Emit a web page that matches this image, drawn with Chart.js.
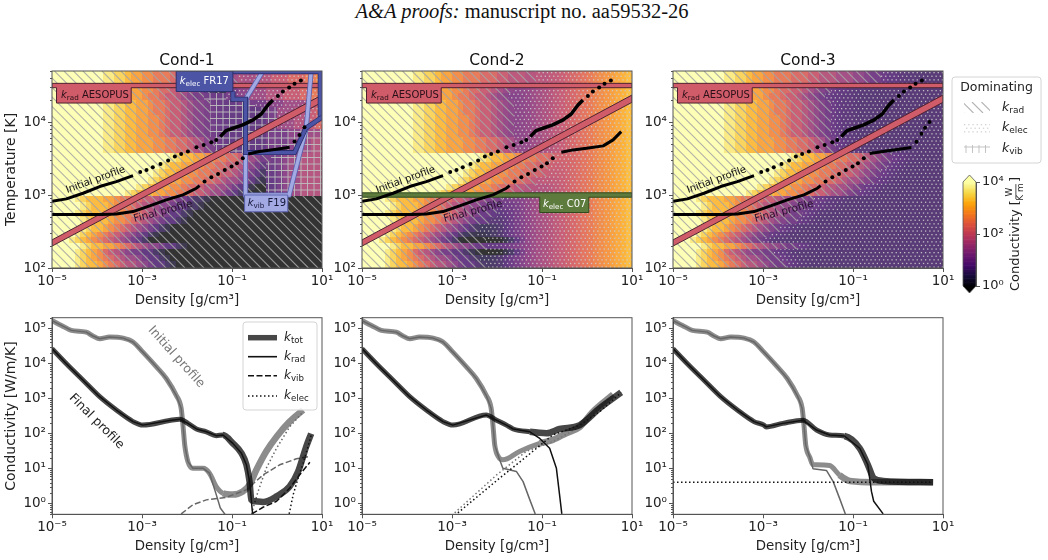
<!DOCTYPE html>
<html>
<head>
<meta charset="utf-8">
<script src="https://cdn.jsdelivr.net/npm/chart.js@4/dist/chart.umd.min.js"></script>
<style>
    body { margin: 0; background: #fff; width: 1048px; height: 560px; overflow: hidden; position: relative; }
    canvas { position: absolute; }
    #pageTitle { position: absolute; left: 0; width: 1044px; top: 0; text-align: center; font: 20.5px "Liberation Serif", serif; color: #111; }
</style>
</head>
<body>
<div id="pageTitle"><i>A&amp;A proofs:</i> manuscript no. aa59532-26</div>
<script>
// temperature row edges of the conductivity maps (log10 K)
const rowEdgesLogT = [2.0, 2.09, 2.18, 2.26, 2.34, 2.42, 2.5, 2.6, 2.7, 2.8, 2.9, 2.98, 3.07, 3.15, 3.25, 3.35, 3.45, 3.57, 3.7, 3.8, 3.9, 4.0, 4.1, 4.2, 4.3, 4.4, 4.5, 4.6, 4.7];
const colStartLogRho = -5;
const colStepLogRho = 0.125;
const colCount = 48;

// conductivity levels: one character per cell, log10 k = -0.5 + 0.25 * index in levelChars
const levelChars = "0123456789abcdefghij";

// radiative conductivity, lowest temperature row first, missing cells on the right are level 0
const kRadRows = [
    "jjjjhgffed cba9987655 4321",
    "jjjjhgfedc ba98876554 3210",
    "jjjihgfedb a987665543 21",
    "jjjjjhgffe edcba98776 554321",
    "jjjhgfedcb a987654211",
    "jjjjhgfedc ba98765432 1",
    "jjjjihgffe dcba987654 321",
    "jjjjjhgfff eddcba9876 554321",
    "jjjjhgfffe eddccba987 6554321",
    "jjjjjhgfff edccba9987 7655443221",
    "jjjjhgfffe edccbbaa98 8766544322 1",
    "jjjjjjjjjj jjihgfffee ddccbaa988 7654321",
    "jjjjjjjjjj jjjjihgffe eddcbba998 8765432 1",
    "jjjjjjjjjj jjjjjjihgf feeddccbba 9887654321",
    "jjjjjjjjjj jjjjjjjihg ffeeddccbb aa98765432 1",
    "jjjjjjjjjj jjjjjjjjih gffeeddccb baa9876543 21",
    "jjjjjjjjjj jjjjjjjjjj ihgffeeddc cbba987654 321",
    "jjjjjjjjih hggffeeedd ccbba98654 3221100",
    "jjjjjjjjih hggffeeedd ccbba98654 3221100",
    "jjjjjjjjih hggffeeddc baa9876543 221",
    "jjjjjjjjih hggffeeddc baa9876543 221",
    "jjjjjjjjih hggffeeddc baa9876543 221",
    "jjjjjjjjih hggffeedcc baa9876543 221",
    "jjjjjjjjih hggffeedcc baa9876543 221",
    "jjjjjjjjih hggfeedccb aa98765433 221",
    "jjjjjjjjih hggfeeddcb baa9876543 3211",
    "jjjjjjjjjh hggfeeddcc cbbbaa9998 8877655433 211",
    "jjjjjjjjjh hggfeeddcc cbbbaa9998 8877655433 211",
];

// Cond-1 vibrational and electronic parts, strings end at the densest column
const kVibRowsCond1 = [
    "", "", "", "", "", "", "", "", "", "", "",
    "5567889999", "5567889999", "5567889999", "5567889999", "5567889999", "5567889999",
    "5555555555556666778899", "5555555555556666778899", "5555555555556666777888",
    "5555555555556600000000", "5555555555556600000000", "5555555555556600000000",
    "5555555666000000000000", "5555500000000000000000", "", "", "",
];
const kElecRowsCond1 = [
    "", "", "", "", "", "", "", "", "", "", "", "", "", "", "", "", "", "", "", "",
    "88899aab", "88899aab", "88899aab", "66777888899a",
    "6677888999aaabbcc", "6677888999aaabbcc", "77888999aaabbbccd", "77888999aaabbbccd",
];

// Cond-2 electronic conductivity per density column (log10 k), its shift per temperature
// row and how much of that shift applies in each column
const kElecCond2 = [-2.06, -1.94, -1.82, -1.71, -1.59, -1.47, -1.36, -1.24, -1.12, -1.01, -0.89, -0.77, -0.66, -0.54, -0.42, -0.31, -0.19, -0.07, 0.04, 0.16, 0.28, 0.39, 0.51, 0.63, 0.74, 0.86, 0.98, 1.09, 1.21, 1.33, 1.44, 1.56, 1.66, 1.77, 1.87, 1.98, 2.09, 2.2, 2.3, 2.41, 2.52, 2.63, 2.73, 2.84, 2.95, 3.05, 3.16, 3.27];
const kElecCond2RowShift = [-0.2, -0.2, -0.9, 0, -0.9, -0.2, -0.2, -0.2, -0.2, -0.2, -0.1, 0, 0, 0, 0, 0, 0, 0, 0, 0, 0, 0, 0, 0, 0, 0, 0, 0];
const kElecCond2ShiftWeight = [1, 1, 1, 1, 1, 1, 1, 1, 1, 1, 1, 1, 1, 1, 1, 1, 1, 1, 1, 1, 1, 1, 1, 1, 1, 0.8, 0.6, 0.4, 0.2, 0, 0, 0, 0, 0, 0, 0, 0, 0, 0, 0, 0, 0, 0, 0, 0, 0, 0, 0];
// Cond-3 uses a constant electronic conductivity (log10 k)
const kElecCond3 = 0.6;

// black profile markers on the maps, log10 density and log10 temperature
const initSolidARho = [-5, -4.68, -4.31, -3.94, -3.57, -3.2];
const initSolidAT = [2.915, 2.947, 3.024, 3.116, 3.184, 3.266];
const initDotsRho = [-3.04, -2.9, -2.76, -2.59, -2.42, -2.27, -2.13, -1.98, -1.79, -1.63, -1.46, -1.35, 0.02, 0.13, 0.27, 0.39, 0.53];
const initDotsT = [3.316, 3.344, 3.38, 3.426, 3.472, 3.526, 3.563, 3.595, 3.654, 3.686, 3.723, 3.755, 4.358, 4.417, 4.472, 4.526, 4.568];
const initSolidBRho = [-1.26, -1.13, -0.98, -0.76, -0.53, -0.35, -0.2, -0.09];
const initSolidBT = [3.8, 3.883, 3.915, 3.96, 4.03, 4.11, 4.234, 4.303];

const finalSolidARho = [-5, -3.9, -3.57, -3.2, -2.83, -2.46, -2.09, -1.79, -1.72];
const finalSolidAT = [2.732, 2.732, 2.741, 2.773, 2.851, 2.933, 3.001, 3.093, 3.129];
const finalDotsRho = [-1.61, -1.46, -1.31, -1.16, -1.01, -0.89, -0.76];
const finalDotsT = [3.184, 3.243, 3.289, 3.344, 3.39, 3.435, 3.504];
const finalEndRhoCond1 = [-0.64, -0.39, -0.01, 0.28];
const finalEndTCond1 = [3.563, 3.595, 3.627, 3.654];
const finalEndDotsRhoCond1 = [0.39, 0.5, 0.61];
const finalEndDotsTCond1 = [3.732, 3.823, 3.928];
const finalEndRhoCond2 = [-0.57, -0.31, -0.01, 0.36, 0.58, 0.76];
const finalEndTCond2 = [3.586, 3.618, 3.64, 3.673, 3.755, 3.869];
const finalEndRhoCond3 = [-0.63, -0.3, 0.3];
const finalEndTCond3 = [3.57, 3.6, 3.65];
const finalEndDotsRhoCond3 = [0.41, 0.52, 0.6, 0.7];
const finalEndDotsTCond3 = [3.73, 3.84, 3.92, 4.0];

// table model bands, log10 density and log10 temperature
const aesopusBandRho = [-5, -4.9, -4.9, -3.24, -3.24, 1, 1, -5];
const aesopusBandT = [4.47, 4.47, 4.26, 4.26, 4.47, 4.47, 4.53, 4.53];
const aesopusDiagRho = [-5, 1, 1, -5];
const aesopusDiagT = [2.3, 4.27, 4.37, 2.385];
const fr17BoxRho = [-2.24, -0.98, -0.98, -2.24];
const fr17BoxT = [4.7, 4.7, 4.417, 4.417];
const fr17PathRho = [-0.98, -0.98, -0.7, -0.7, 0.39, 0.64, 1];
const fr17PathT = [4.417, 4.312, 4.312, 3.581, 3.581, 3.915, 4.065];
const fr17EdgeRho = [-0.98, 0.96, 0.96];
const fr17EdgeT = [4.69, 4.69, 4.065];
const f19BoxRho = [-0.72, 0.24, 0.24, -0.72];
const f19BoxT = [3.0, 3.0, 2.77, 2.77];
const f19PathRho = [-0.31, -0.68, -0.7, -0.7, 0.27, 0.65, 0.76];
const f19PathT = [4.7, 4.33, 4.0, 3.0, 3.0, 3.915, 4.7];
const c07BandRho = [-5, -1.05, -1.05, 0.04, 0.04, 1, 1, -5];
const c07BandT = [2.97, 2.97, 2.76, 2.76, 2.97, 2.97, 3.03, 3.03];

// conductivity along the profiles, log10 density and log10 k
const initLeftRho = [-5, -4.79, -4.57, -4.24, -4.09, -3.94, -3.72, -3.42, -3.2, -2.98, -2.68, -2.46, -2.24, -2.13, -2.09, -2.05];
const initLeftK = [5.22, 5.08, 4.94, 4.89, 4.78, 4.7, 4.75, 4.72, 4.61, 4.32, 3.9, 3.57, 3.09, 2.72, 2.24, 1.67];
const finalLeftRho = [-5, -4.68, -4.31, -3.94, -3.57, -3.2, -2.98];
const finalLeftK = [4.42, 3.99, 3.52, 3.05, 2.67, 2.34, 2.24];

const initTotRho1 = [-1.98, -1.87, -1.64, -1.5, -1.35, -1.2, -0.98, -0.76, -0.61, -0.46, -0.24, -0.01, 0.28, 0.58];
const initTotK1 = [1.2, 1.01, 1.01, 0.87, 0.49, 0.3, 0.26, 0.35, 0.54, 0.96, 1.49, 1.91, 2.34, 2.67];
const initRadRho1 = [-1.98, -1.87, -1.64, -1.5, -1.35, -1.26, -1.15];
const initRadK1 = [1.2, 1.01, 1.01, 0.87, 0.26, -0.12, -0.31];
const initVibRho1 = [-2.13, -1.87, -1.57, -1.13, -0.68, -0.31, 0.06, 0.43, 0.69];
const initVibK1 = [-0.29, -0.03, 0.11, 0.18, 0.4, 0.82, 1.11, 1.28, 1.34];
const initElecRho1 = [-0.56, -0.53, -0.42, -0.24, -0.01, 0.28, 0.58];
const initElecK1 = [-0.29, -0.12, 0.35, 1.01, 1.58, 2.19, 2.62];
const finalTotRho1 = [-2.39, -2.16, -1.98, -1.79, -1.57, -1.35, -1.2, -0.98, -0.79, -0.68, -0.61, -0.57, -0.5, -0.31, -0.01, 0.28, 0.47, 0.65, 0.76];
const finalTotK1 = [2.37, 2.41, 2.29, 2.13, 2.05, 1.94, 1.96, 1.72, 1.44, 1.11, 0.63, 0.11, 0.07, 0.05, 0.21, 0.49, 0.92, 1.63, 2.0];
const finalRadRho1 = [-2.39, -2.16, -1.98, -1.79, -1.57, -1.35, -1.2, -0.98, -0.79, -0.68, -0.61, -0.57, -0.55, -0.53];
const finalRadK1 = [2.37, 2.41, 2.29, 2.13, 2.05, 1.94, 1.96, 1.72, 1.44, 1.11, 0.63, 0.11, -0.2, -0.31];
const finalVibRho1 = [-0.56, -0.31, -0.01, 0.28, 0.5, 0.73];
const finalVibK1 = [-0.29, -0.1, 0.07, 0.44, 0.82, 1.18];
const finalElecRho1 = [0.27, 0.36, 0.47, 0.58, 0.69, 0.76];
const finalElecK1 = [-0.29, 0.26, 0.73, 1.15, 1.63, 1.96];

const initTotRho2 = [-1.96, -1.87, -1.5, -1.05, -0.76, -0.46, -0.16, 0.13, 0.58];
const initTotK2 = [1.32, 1.25, 1.49, 1.72, 1.82, 2.01, 2.19, 2.62, 3.11];
const initRadRho2 = [-1.96, -1.87, -1.57, -1.42, -1.27, -1.15];
const initRadK2 = [1.32, 1.01, 0.92, 0.63, 0.11, -0.29];
const initElecRho2 = [-2.94, -2.01, -1.35, -0.76, -0.16, 0.58];
const initElecK2 = [-0.26, 0.82, 1.49, 1.77, 2.19, 3.11];
const finalTotRho2 = [-2.24, -2.01, -1.79, -1.64, -1.27, -0.9, -0.61, -0.16, 0.28, 0.76];
const finalTotK2 = [2.53, 2.38, 2.24, 2.13, 2.05, 2.01, 2.13, 2.24, 2.72, 3.17];
const finalRadRho2 = [-2.24, -2.01, -1.79, -1.64, -1.27, -1.05, -0.83, -0.68, -0.61, -0.56];
const finalRadK2 = [2.53, 2.38, 2.24, 2.13, 2.05, 1.86, 1.58, 1.01, 0.26, -0.29];
const finalElecRho2 = [-2.87, -1.94, -1.35, -0.76, -0.16, 0.28, 0.76];
const finalElecK2 = [-0.26, 0.73, 1.34, 1.96, 2.24, 2.62, 3.17];

const initTotRho3 = [-1.96, -1.89, -1.81, -1.52, -1.3, -1.07, -0.48, 0.78];
const initTotK3 = [1.32, 1.11, 1.11, 1.09, 0.82, 0.65, 0.615, 0.615];
const initRadRho3 = [-1.96, -1.89, -1.59, -1.44, -1.3, -1.17];
const initRadK3 = [1.32, 1.0, 0.95, 0.63, 0.16, -0.29];
const finalTotRho3 = [-2.93, -2.56, -2.11, -1.81, -1.52, -1.19, -0.85, -0.67, -0.54, -0.33, 0.78];
const finalTotK3 = [2.19, 2.29, 2.38, 2.1, 1.96, 1.93, 1.58, 1.11, 0.73, 0.65, 0.615];
const finalRadRho3 = [-2.93, -2.56, -2.11, -1.81, -1.52, -1.19, -0.85, -0.67, -0.59, -0.54, -0.33];
const finalRadK3 = [2.19, 2.29, 2.38, 2.1, 1.96, 1.93, 1.58, 1.11, 0.35, 0.07, -0.29];
const elecFlatRho3 = [-5, 0.75];
const elecFlatK3 = [0.615, 0.615];

// tick labels
const densityTicks = [1e-5, 1e-3, 1e-1, 1e1];
const temperatureTicks = [1e2, 1e3, 1e4];
const conductivityTicks = [1e0, 1e1, 1e2, 1e3, 1e4, 1e5];
const colorbarTicks = [1e0, 1e2, 1e4];

const inferno = ["#000004", "#160b39", "#420a68", "#6a176e", "#932667", "#bc3754", "#dd513a", "#f37819", "#fca50a", "#f6d746", "#fcffa4"];
const fontFamily = '"DejaVu Sans", sans-serif';
const axisColor = "#555";
const textColor = "#222";

function cleanRow(row) {
    return row.replace(/ /g, "");
}

function levelToLog(ch) {
    return -0.5 + 0.25 * levelChars.indexOf(ch);
}

function hexToRgb(hex) {
    return [1, 3, 5].map((i) => parseInt(hex.slice(i, i + 2), 16));
}

// inferno with a log norm from 1 to 1e4
function colormap(logK, alpha) {
    if (logK < 0) return alpha < 1 ? "#333333" : "#000";
    const t = Math.min(logK / 4, 1) * 10;
    const i = Math.min(Math.floor(t), 9);
    const a = hexToRgb(inferno[i]);
    const b = hexToRgb(inferno[i + 1]);
    const rgb = a.map((v, n) => v + (b[n] - v) * (t - i));
    return "rgb(" + rgb.map((v) => Math.round(v * alpha + 255 * (1 - alpha))).join(",") + ")";
}

function tickLabel(value) {
    const sup = { "-": "⁻", 0: "⁰", 1: "¹", 2: "²", 3: "³", 4: "⁴", 5: "⁵" };
    const exp = String(Math.round(Math.log10(value)));
    return "10" + exp.split("").map((c) => sup[c]).join("");
}

function logPoints(xs, ys) {
    return xs.map((x, i) => ({ x: Math.pow(10, x), y: Math.pow(10, ys[i]) }));
}

// "k" with a subscript plus optional trailing text
function drawKLabel(ctx, x, y, sub, rest, size, color) {
    ctx.save();
    ctx.fillStyle = color;
    ctx.textBaseline = "middle";
    ctx.textAlign = "left";
    ctx.font = "italic " + size + "px " + fontFamily;
    ctx.fillText("k", x, y);
    let cx = x + ctx.measureText("k").width;
    ctx.font = size * 0.72 + "px " + fontFamily;
    ctx.fillText(sub, cx, y + size * 0.25);
    cx += ctx.measureText(sub).width;
    if (rest) {
        ctx.font = size + "px " + fontFamily;
        ctx.fillText(rest, cx, y);
    }
    ctx.restore();
}

function drawRotatedText(ctx, text, x, y, degrees, size, color) {
    ctx.save();
    ctx.translate(x, y);
    ctx.rotate((degrees * Math.PI) / 180);
    ctx.font = size + "px " + fontFamily;
    ctx.fillStyle = color;
    ctx.textAlign = "center";
    ctx.textBaseline = "middle";
    ctx.fillText(text, 0, 0);
    ctx.restore();
}

function hatchRad(ctx, left, top, right, bottom) {
    const h = bottom - top;
    ctx.strokeStyle = "rgba(165,165,165,0.85)";
    ctx.lineWidth = 1.1;
    ctx.beginPath();
    for (let d = -h; d < right - left; d += 9.5) {
        ctx.moveTo(left + d, top);
        ctx.lineTo(left + d + h, bottom);
    }
    ctx.stroke();
}

function hatchElec(ctx, left, top, right, bottom) {
    ctx.fillStyle = "rgba(205,205,205,0.9)";
    let odd = false;
    for (let y = top + 1; y < bottom; y += 3.6) {
        for (let x = left + (odd ? 2.1 : 0); x < right; x += 4.2) {
            ctx.fillRect(x, y, 1.3, 1.3);
        }
        odd = !odd;
    }
}

function hatchVib(ctx, left, top, right, bottom) {
    ctx.strokeStyle = "rgba(190,190,190,0.9)";
    ctx.lineWidth = 1;
    ctx.beginPath();
    for (let x = left + 2; x < right; x += 6.5) {
        ctx.moveTo(x, top);
        ctx.lineTo(x, bottom);
    }
    for (let y = top + 2; y < bottom; y += 6.5) {
        ctx.moveTo(left, y);
        ctx.lineTo(right, y);
    }
    ctx.stroke();
}

const hatchers = { rad: hatchRad, elec: hatchElec, vib: hatchVib };

function tracePoly(ctx, chart, xs, ys) {
    ctx.beginPath();
    xs.forEach((x, i) => {
        const px = chart.scales.x.getPixelForValue(Math.pow(10, x));
        const py = chart.scales.y.getPixelForValue(Math.pow(10, ys[i]));
        if (i === 0) ctx.moveTo(px, py);
        else ctx.lineTo(px, py);
    });
}

function drawBand(ctx, chart, xs, ys, fill, edge) {
    tracePoly(ctx, chart, xs, ys);
    ctx.closePath();
    ctx.fillStyle = fill;
    ctx.fill();
    ctx.strokeStyle = edge;
    ctx.lineWidth = 1;
    ctx.stroke();
}

function drawPath(ctx, chart, xs, ys, fill, edge) {
    tracePoly(ctx, chart, xs, ys);
    ctx.lineJoin = "miter";
    ctx.strokeStyle = edge;
    ctx.lineWidth = 5;
    ctx.stroke();
    ctx.strokeStyle = fill;
    ctx.lineWidth = 3.4;
    ctx.stroke();
}

// spine on all four sides and the small ticks of the vertical axis
const framePlugin = {
    id: "frame",
    afterDraw(chart) {
        const { ctx, chartArea: a, scales } = chart;
        ctx.save();
        ctx.strokeStyle = axisColor;
        ctx.lineWidth = 1;
        ctx.strokeRect(a.left, a.top, a.right - a.left, a.bottom - a.top);
        ctx.beginPath();
        for (let n = -1; n < 6; n++) {
            for (let m = 2; m < 10; m++) {
                const v = m * Math.pow(10, n);
                if (v < scales.y.min || v > scales.y.max) continue;
                const y = Math.round(scales.y.getPixelForValue(v)) + 0.5;
                ctx.moveTo(a.left, y);
                ctx.lineTo(a.left - 2, y);
            }
        }
        ctx.stroke();
        ctx.restore();
    },
};

function panelTitlePlugin(title) {
    return {
        id: "panelTitle",
        afterDraw(chart) {
            const { ctx, chartArea: a } = chart;
            ctx.save();
            ctx.font = "15.5px " + fontFamily;
            ctx.fillStyle = "#111";
            ctx.textAlign = "center";
            ctx.textBaseline = "middle";
            ctx.fillText(title, (a.left + a.right) / 2, a.top - 10.5);
            ctx.restore();
        },
    };
}

// per cell map of total conductivity and the component that dominates
function buildCells(elecAt, vibAt) {
    const cells = [];
    kRadRows.forEach((raw, r) => {
        const rad = cleanRow(raw).padEnd(colCount, "0");
        for (let c = 0; c < colCount; c++) {
            const kRad = Math.pow(10, levelToLog(rad[c]));
            const kElec = elecAt(r, c);
            const kVib = vibAt(r, c);
            let dom = "rad";
            if (kElec > kRad && kElec >= kVib) dom = "elec";
            else if (kVib > kRad && kVib > kElec) dom = "vib";
            cells.push({ r, c, logK: Math.log10(kRad + kElec + kVib), dom });
        }
    });
    return cells;
}

function levelGridReader(rows) {
    const grid = rows.map((row) => cleanRow(row).padStart(colCount, "0"));
    return (r, c) => (grid[r][c] === "0" ? 0 : Math.pow(10, levelToLog(grid[r][c])));
}

function heatPlugin(panel) {
    const cells = buildCells(panel.elecAt, panel.vibAt);
    return {
        id: "heat",
        beforeDatasetsDraw(chart) {
            const { ctx, chartArea: a, scales } = chart;
            const box = (cell) => {
                const x0 = Math.round(scales.x.getPixelForValue(Math.pow(10, colStartLogRho + cell.c * colStepLogRho)));
                const x1 = Math.round(scales.x.getPixelForValue(Math.pow(10, colStartLogRho + (cell.c + 1) * colStepLogRho)));
                const y1 = Math.round(scales.y.getPixelForValue(Math.pow(10, rowEdgesLogT[cell.r])));
                const y0 = Math.round(scales.y.getPixelForValue(Math.pow(10, rowEdgesLogT[cell.r + 1])));
                return [x0, y0, x1 - x0, y1 - y0];
            };
            ctx.save();
            ctx.beginPath();
            ctx.rect(a.left, a.top, a.right - a.left, a.bottom - a.top);
            ctx.clip();
            cells.forEach((cell) => {
                ctx.fillStyle = colormap(cell.logK, 0.8);
                ctx.fillRect(...box(cell));
            });
            // one hatch per dominating component, clipped to the union of its cells
            Object.keys(hatchers).forEach((dom) => {
                ctx.save();
                ctx.beginPath();
                cells.filter((cell) => cell.dom === dom).forEach((cell) => ctx.rect(...box(cell)));
                ctx.clip();
                hatchers[dom](ctx, a.left, a.top, a.right, a.bottom);
                ctx.restore();
            });
            drawBand(ctx, chart, aesopusBandRho, aesopusBandT, "#d05c69", "#4d2230");
            drawBand(ctx, chart, aesopusDiagRho, aesopusDiagT, "#d05c69", "#4d2230");
            if (panel.drawBands) panel.drawBands(ctx, chart);
            ctx.restore();
        },
        afterDatasetsDraw(chart) {
            const { ctx, scales } = chart;
            const sx = (v) => scales.x.getPixelForValue(Math.pow(10, v));
            const sy = (v) => scales.y.getPixelForValue(Math.pow(10, v));
            drawKLabel(ctx, sx(-4.8), sy(4.365), "rad", " AESOPUS", 10, "#2a1018");
            if (panel.drawBandLabels) panel.drawBandLabels(ctx, sx, sy);
            drawRotatedText(ctx, "Initial profile", sx(-4.03), sy(3.207), -20, 10, "#111");
            drawRotatedText(ctx, "Final profile", sx(-2.53), sy(2.773), -15, 10.5, "#2a1030");
        },
    };
}

function lineSet(xs, ys, color, width) {
    return { data: logPoints(xs, ys), showLine: true, borderColor: color, borderWidth: width, pointRadius: 0, borderCapStyle: "butt", borderJoinStyle: "round" };
}

function dotSet(xs, ys) {
    return { data: logPoints(xs, ys), showLine: false, pointRadius: 2, pointBackgroundColor: "#000", pointBorderWidth: 0 };
}

function axisOptions(axisSize, yTicks, yMin, yMax, yTitle) {
    const tickFont = { family: fontFamily, size: 13.5 };
    const common = {
        type: "logarithmic",
        grid: { drawOnChartArea: false, tickLength: 4, color: axisColor, lineWidth: 1 },
        border: { color: axisColor },
    };
    return {
        x: {
            ...common,
            min: 1e-5,
            max: 1e1,
            afterBuildTicks(scale) { scale.ticks = densityTicks.map((value) => ({ value })); },
            afterFit(scale) { scale.height = axisSize; },
            ticks: { autoSkip: false, maxRotation: 0, color: textColor, font: tickFont, padding: 1, callback: tickLabel },
            title: { display: true, text: "Density [g/cm³]", color: textColor, font: { family: fontFamily, size: 13.4 }, padding: { top: 0, bottom: 3 } },
        },
        y: {
            ...common,
            min: yMin,
            max: yMax,
            afterBuildTicks(scale) { scale.ticks = yTicks.map((value) => ({ value })); },
            afterFit(scale) { scale.width = 52; },
            ticks: { autoSkip: false, color: textColor, font: tickFont, padding: 2, callback: tickLabel },
            title: { display: Boolean(yTitle), text: yTitle, color: textColor, font: { family: fontFamily, size: 14 }, padding: { top: 3, bottom: 0 } },
        },
    };
}

function addCanvas(left, top, width, height) {
    const canvas = document.createElement("canvas");
    canvas.width = width;
    canvas.height = height;
    canvas.style.left = left + "px";
    canvas.style.top = top + "px";
    canvas.style.width = width + "px";
    canvas.style.height = height + "px";
    document.body.appendChild(canvas);
    return canvas;
}

function baseOptions(scales, padTop) {
    return {
        responsive: false,
        animation: false,
        devicePixelRatio: 1,
        layout: { padding: { left: 0, right: 18, top: padTop, bottom: 0 } },
        plugins: { legend: { display: false }, tooltip: { enabled: false } },
        scales,
    };
}

// ---- conductivity maps ----
const heatPanels = [
    {
        title: "Cond-1",
        left: 52.3,
        elecAt: levelGridReader(kElecRowsCond1),
        vibAt: levelGridReader(kVibRowsCond1),
        drawBands(ctx, chart) {
            drawPath(ctx, chart, f19PathRho, f19PathT, "#a3a9e2", "#5a62ae");
            drawBand(ctx, chart, f19BoxRho, f19BoxT, "#a3a9e2", "#5a62ae");
            drawPath(ctx, chart, fr17EdgeRho, fr17EdgeT, "#4c54a6", "#2a2f6c");
            drawPath(ctx, chart, fr17PathRho, fr17PathT, "#4c54a6", "#2a2f6c");
            drawBand(ctx, chart, fr17BoxRho, fr17BoxT, "#4c54a6", "#2a2f6c");
        },
        drawBandLabels(ctx, sx, sy) {
            drawKLabel(ctx, sx(-2.16), sy(4.56), "elec", " FR17", 10, "#fff");
            drawKLabel(ctx, sx(-0.65), sy(2.885), "vib", " F19", 10, "#14163a");
        },
        finalExtra: [
            lineSet(finalEndRhoCond1, finalEndTCond1, "#000", 3),
            dotSet(finalEndDotsRhoCond1, finalEndDotsTCond1),
        ],
    },
    {
        title: "Cond-2",
        left: 362.3,
        elecAt: (r, c) => Math.pow(10, kElecCond2[c] + kElecCond2RowShift[r] * kElecCond2ShiftWeight[c]),
        vibAt: () => 0,
        drawBands(ctx, chart) {
            drawBand(ctx, chart, c07BandRho, c07BandT, "#5e7b3e", "#2f4a1e");
        },
        drawBandLabels(ctx, sx, sy) {
            drawKLabel(ctx, sx(-0.98), sy(2.865), "elec", " C07", 10, "#fff");
        },
        finalExtra: [lineSet(finalEndRhoCond2, finalEndTCond2, "#000", 3)],
    },
    {
        title: "Cond-3",
        left: 673.3,
        elecAt: () => Math.pow(10, kElecCond3),
        vibAt: () => 0,
        finalExtra: [
            lineSet(finalEndRhoCond3, finalEndTCond3, "#000", 3),
            dotSet(finalEndDotsRhoCond3, finalEndDotsTCond3),
        ],
    },
];

heatPanels.forEach((panel, i) => {
    const canvas = addCanvas(Math.round(panel.left) - 52, 50, 340, 262);
    const scales = axisOptions(44, temperatureTicks, 1e2, 5e4, i === 0 ? "Temperature [K]" : "");
    new Chart(canvas, {
        type: "scatter",
        data: {
            datasets: [
                lineSet(initSolidARho, initSolidAT, "#000", 3),
                dotSet(initDotsRho, initDotsT),
                lineSet(initSolidBRho, initSolidBT, "#000", 3.5),
                lineSet(finalSolidARho, finalSolidAT, "#000", 3),
                dotSet(finalDotsRho, finalDotsT),
                ...panel.finalExtra,
            ],
        },
        options: baseOptions(scales, 21),
        plugins: [heatPlugin(panel), framePlugin, panelTitlePlugin(panel.title)],
    });
});

// ---- conductivity along the profiles ----
const initColor = "rgba(0,0,0,0.45)";
const finalColor = "rgba(0,0,0,0.72)";

function thickSet(xs, ys, color) {
    const set = lineSet(xs, ys, color, 5);
    set.cubicInterpolationMode = "monotone";
    set.segment = { borderWidth: (ctx) => (ctx.p0.parsed.x > 0.05 ? 6.5 : 5) };
    return set;
}

function thinSet(xs, ys, color, dash, width) {
    const set = lineSet(xs, ys, color, width || 1.5);
    set.borderDash = dash;
    return set;
}

const bottomPanels = [
    {
        left: 52.3,
        yTitle: "Conductivity [W/m/K]",
        datasets: [
            thinSet(finalElecRho1, finalElecK1, "#111", [1.5, 2.5]),
            thinSet(finalVibRho1, finalVibK1, "#111", [6, 2.5]),
            thinSet([...finalLeftRho, ...finalRadRho1], [...finalLeftK, ...finalRadK1], "#111", []),
            thickSet([...finalLeftRho, ...finalTotRho1], [...finalLeftK, ...finalTotK1], finalColor),
            thinSet(initElecRho1, initElecK1, "#666", [1.5, 2.5]),
            thinSet(initVibRho1, initVibK1, "#666", [6, 2.5]),
            thinSet([...initLeftRho, ...initRadRho1], [...initLeftK, ...initRadK1], "#666", []),
            thickSet([...initLeftRho, ...initTotRho1], [...initLeftK, ...initTotK1], initColor),
        ],
    },
    {
        left: 362.3,
        datasets: [
            thinSet(finalElecRho2, finalElecK2, "#111", [1.5, 2.5]),
            thinSet([...finalLeftRho, ...finalRadRho2], [...finalLeftK, ...finalRadK2], "#111", []),
            thickSet([...finalLeftRho, ...finalTotRho2], [...finalLeftK, ...finalTotK2], finalColor),
            thinSet(initElecRho2, initElecK2, "#777", [1.5, 2.5]),
            thinSet([...initLeftRho, ...initRadRho2], [...initLeftK, ...initRadK2], "#666", []),
            thickSet([...initLeftRho, ...initTotRho2], [...initLeftK, ...initTotK2], initColor),
        ],
    },
    {
        left: 673.3,
        datasets: [
            thinSet(elecFlatRho3, elecFlatK3, "#111", [1.5, 2.5]),
            thinSet([...finalLeftRho, ...finalRadRho3], [...finalLeftK, ...finalRadK3], "#111", []),
            thickSet([...finalLeftRho, ...finalTotRho3], [...finalLeftK, ...finalTotK3], finalColor),
            thinSet([...initLeftRho, ...initRadRho3], [...initLeftK, ...initRadK3], "#666", []),
            thickSet([...initLeftRho, ...initTotRho3], [...initLeftK, ...initTotK3], initColor),
        ],
    },
];

// legend and the two rotated curve labels of the first profile panel
const profileNotesPlugin = {
    id: "profileNotes",
    afterDatasetsDraw(chart) {
        const { ctx, scales } = chart;
        const sx = (v) => scales.x.getPixelForValue(Math.pow(10, v));
        const sy = (v) => scales.y.getPixelForValue(Math.pow(10, v));
        drawRotatedText(ctx, "Initial profile", sx(-2.24), sy(4.18), 48, 12.5, "#777");
        drawRotatedText(ctx, "Final profile", sx(-4.01), sy(2.34), 45, 12.5, "#222");

        const left = sx(-5) + 191;
        ctx.save();
        ctx.fillStyle = "rgba(255,255,255,0.85)";
        ctx.strokeStyle = "#d4d4d4";
        ctx.lineWidth = 1;
        ctx.beginPath();
        ctx.roundRect(left, 22, 74, 88, 3);
        ctx.fill();
        ctx.stroke();
        const rows = [
            { y: 37.7, sub: "tot", width: 5.5, dash: [], color: "rgba(0,0,0,0.72)" },
            { y: 56.7, sub: "rad", width: 1.6, dash: [], color: "#111" },
            { y: 75.7, sub: "vib", width: 1.6, dash: [6, 2.5], color: "#111" },
            { y: 96, sub: "elec", width: 1.6, dash: [1.5, 2.5], color: "#111" },
        ];
        rows.forEach((row) => {
            ctx.beginPath();
            ctx.setLineDash(row.dash);
            ctx.lineWidth = row.width;
            ctx.strokeStyle = row.color;
            ctx.moveTo(left + 5, row.y);
            ctx.lineTo(left + 34, row.y);
            ctx.stroke();
            drawKLabel(ctx, left + 41, row.y, row.sub, "", 12, "#222");
        });
        ctx.restore();
    },
};

bottomPanels.forEach((panel, i) => {
    const canvas = addCanvas(Math.round(panel.left) - 52, 300, 340, 258);
    const scales = axisOptions(43.7, conductivityTicks, 0.5, 2e5, panel.yTitle || "");
    const plugins = [framePlugin];
    if (i === 0) plugins.push(profileNotesPlugin);
    new Chart(canvas, {
        type: "scatter",
        data: { datasets: panel.datasets },
        options: baseOptions(scales, 17.7),
        plugins,
    });
});

// ---- colour bar and hatch legend ----
const colorbarPlugin = {
    id: "colorbar",
    beforeDatasetsDraw(chart) {
        const { ctx, chartArea: a, scales } = chart;
        ctx.save();
        for (let e = 0; e < 4; e += 0.05) {
            const y0 = scales.y.getPixelForValue(Math.pow(10, e));
            const y1 = scales.y.getPixelForValue(Math.pow(10, e + 0.05));
            ctx.fillStyle = colormap(e + 0.025, 1);
            ctx.fillRect(a.left, y1, a.right - a.left, y0 - y1 + 0.6);
        }
        const mid = (a.left + a.right) / 2;
        ctx.fillStyle = colormap(4, 1);
        ctx.beginPath();
        ctx.moveTo(a.left, a.top);
        ctx.lineTo(mid, a.top - 7);
        ctx.lineTo(a.right, a.top);
        ctx.fill();
        ctx.fillStyle = "#000";
        ctx.beginPath();
        ctx.moveTo(a.left, a.bottom);
        ctx.lineTo(mid, a.bottom + 7);
        ctx.lineTo(a.right, a.bottom);
        ctx.fill();
        ctx.strokeStyle = axisColor;
        ctx.lineWidth = 0.8;
        ctx.beginPath();
        ctx.moveTo(a.left, a.top);
        ctx.lineTo(mid, a.top - 7);
        ctx.lineTo(a.right, a.top);
        ctx.lineTo(a.right, a.bottom);
        ctx.lineTo(mid, a.bottom + 7);
        ctx.lineTo(a.left, a.bottom);
        ctx.closePath();
        ctx.stroke();
        ctx.restore();
    },
    afterDraw(chart) {
        const { ctx, chartArea: a } = chart;
        // rotated axis label with its fraction
        ctx.save();
        ctx.translate(a.right + 40, a.bottom + 5);
        ctx.rotate(-Math.PI / 2);
        ctx.fillStyle = textColor;
        ctx.font = "13px " + fontFamily;
        ctx.textAlign = "left";
        ctx.textBaseline = "middle";
        ctx.fillText("Conductivity [", 0, 0);
        const w = ctx.measureText("Conductivity [").width;
        ctx.font = "9px " + fontFamily;
        ctx.textAlign = "center";
        ctx.fillText("W", w + 8, -6);
        ctx.fillText("K m", w + 8, 5);
        ctx.fillRect(w + 1, -0.5, 15, 0.8);
        ctx.font = "13px " + fontFamily;
        ctx.textAlign = "left";
        ctx.fillText("]", w + 18, 0);
        ctx.restore();

        // hatch legend sits above the bar
        const boxLeft = 7;
        const boxTop = 7;
        ctx.save();
        ctx.strokeStyle = "#d4d4d4";
        ctx.fillStyle = "#fff";
        ctx.lineWidth = 1;
        ctx.beginPath();
        ctx.roundRect(boxLeft, boxTop, 89, 86, 3);
        ctx.fill();
        ctx.stroke();
        ctx.font = "12.5px " + fontFamily;
        ctx.fillStyle = textColor;
        ctx.textAlign = "center";
        ctx.textBaseline = "middle";
        ctx.fillText("Dominating", boxLeft + 44.5, boxTop + 11);
        const rows = [
            { dom: "rad", sub: "rad", top: 25, h: 11 },
            { dom: "elec", sub: "elec", top: 46, h: 10 },
            { dom: "vib", sub: "vib", top: 68, h: 8 },
        ];
        rows.forEach((row) => {
            ctx.save();
            ctx.beginPath();
            ctx.rect(boxLeft + 12, boxTop + row.top, 26, row.h);
            ctx.clip();
            hatchers[row.dom](ctx, boxLeft + 12, boxTop + row.top, boxLeft + 38, boxTop + row.top + row.h);
            ctx.restore();
            drawKLabel(ctx, boxLeft + 50, boxTop + row.top + row.h / 2, row.sub, "", 12.5, textColor);
        });
        ctx.restore();
    },
};

new Chart(addCanvas(945, 70, 103, 230), {
    type: "scatter",
    data: { datasets: [] },
    options: {
        responsive: false,
        animation: false,
        devicePixelRatio: 1,
        layout: { padding: { left: 18, right: 41, top: 112, bottom: 14 } },
        plugins: { legend: { display: false }, tooltip: { enabled: false } },
        scales: {
            x: { display: false, min: 0, max: 1 },
            y: {
                type: "logarithmic",
                position: "right",
                min: 1,
                max: 1e4,
                afterBuildTicks(scale) { scale.ticks = colorbarTicks.map((value) => ({ value })); },
                afterFit(scale) { scale.width = 31; },
                grid: { drawOnChartArea: false, tickLength: 4, color: axisColor },
                border: { color: axisColor },
                ticks: { autoSkip: false, color: textColor, font: { family: fontFamily, size: 13 }, padding: 2, callback: tickLabel },
            },
        },
    },
    plugins: [colorbarPlugin],
});
</script>
</body>
</html>
